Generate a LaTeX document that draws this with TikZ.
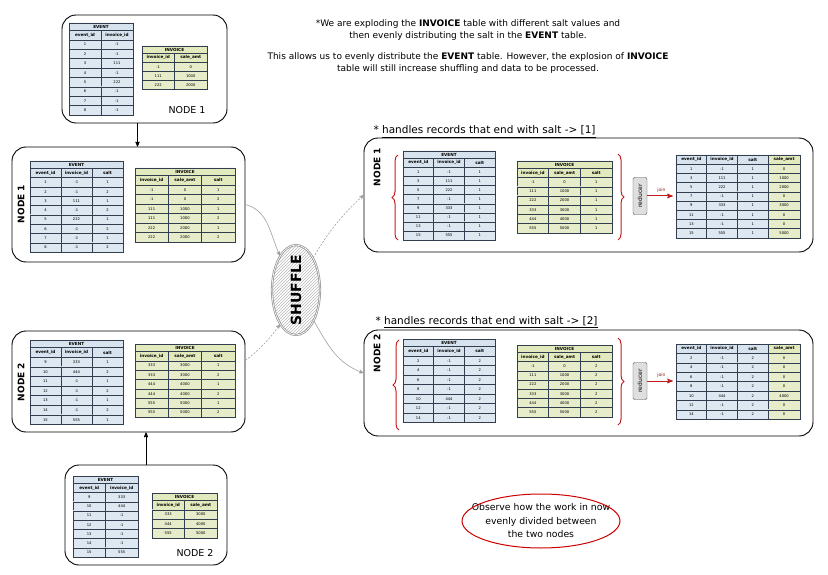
\documentclass[tikz,border=0pt]{standalone}
\usepackage{fontspec}
\setmainfont{DejaVu Sans}
\usetikzlibrary{arrows,shapes.geometric,patterns,decorations.pathreplacing}

\definecolor{evblue}{RGB}{206,224,241}
\definecolor{invgreen}{RGB}{222,233,168}
\definecolor{tblline}{RGB}{50,62,78}
\definecolor{bracered}{RGB}{196,28,28}

\tikzset{
  tcell/.style={inner sep=0pt, font=\fontsize{3.7}{3.7}\selectfont,
    postaction={pattern=north east lines, pattern color=white!85!gray},
    postaction={draw=tblline, line width=0.5pt}},
  thead/.style={tcell, font=\fontsize{4.2}{4.2}\selectfont\bfseries},
  nodebox/.style={draw, line width=0.9pt, rounded corners=14pt, inner sep=0pt},
  sidelbl/.style={rotate=90, font=\fontsize{9}{9}\selectfont\bfseries},
  conn/.style={draw=gray!75, line width=0.6pt},
  dconn/.style={conn, dash pattern=on 2pt off 1.5pt},
  heading/.style={font=\fontsize{10.5}{10.5}\selectfont},
  curly/.style={draw=bracered, line width=1pt, decorate, decoration={brace, amplitude=6pt}},
  reducer/.style={rotate=90, draw=gray!60!black, fill=gray!25, rounded corners=2pt,
    minimum width=37pt, minimum height=14pt, inner sep=0pt, font=\fontsize{6}{6}\selectfont},
  joinarr/.style={draw=bracered, line width=1pt, shorten >=3pt}
}

% #1 name, #2 left, #3 top, #4 column width, #5 row height, #6 colour, #7 title, #8 header, #9 rows
\newcommand{\datatable}[9]{%
  \foreach \hd [count=\cl] in {#8} {\xdef\tblcols{\cl}}
  \if\relax\detokenize{#7}\relax
    \def\tbltop{0}
  \else
    \def\tbltop{0.8*#5}
    \node[thead, fill=#6, minimum width={\tblcols*#4pt}, minimum height={0.8*#5pt}]
      (#1-t) at ({#2+\tblcols*#4/2}, {#3+0.4*#5}) {#7};
  \fi
  \foreach \hd [count=\cl] in {#8}
    \node[thead, fill=#6, minimum width=#4pt, minimum height=#5pt]
      (#1-h\cl) at ({#2+(\cl-0.5)*#4}, {#3+\tbltop+0.5*#5}) {\hd};
  \foreach \rw [count=\ri] in {#9}
    \foreach \vl [count=\cl] in \rw
      \node[tcell, fill=#6!80, minimum width=#4pt, minimum height=#5pt]
        (#1-\ri-\cl) at ({#2+(\cl-0.5)*#4}, {#3+\tbltop+(\ri+0.5)*#5}) {\vl};
}

\begin{document}
\begin{tikzpicture}[x=1pt, y=-1pt, >=stealth']
\useasboundingbox (0,0) rectangle (828,575);

%%%NOTE
\node[font=\fontsize{9}{12}\selectfont, align=center] (expl) at (468,47)
  {*We are exploding the \textbf{INVOICE} table with different salt values and\\
   then evenly distributing the salt in the \textbf{EVENT} table.\\[9pt]
   This allows us to evenly distribute the \textbf{EVENT} table. However, the explosion of \textbf{INVOICE}\\
   table will still increase shuffling and data to be processed.};

%%%BOXES
\node[nodebox, minimum width=165pt, minimum height=108pt] (topn1) at (144.5,69) {};
\node[nodebox, minimum width=233pt, minimum height=115pt] (leftn1) at (128.5,204.5) {};
\node[nodebox, minimum width=233pt, minimum height=101pt] (leftn2) at (128.5,381.5) {};
\node[nodebox, minimum width=162pt, minimum height=100pt] (botn2) at (146,515) {};
\node[nodebox, minimum width=449pt, minimum height=114pt] (rightn1) at (588.5,195) {};
\node[nodebox, minimum width=449pt, minimum height=106pt] (rightn2) at (588.5,383) {};

\node[font=\fontsize{9.5}{9.5}\selectfont] (topn1-lbl) at (187,110) {NODE 1};
\node[font=\fontsize{9.5}{9.5}\selectfont] (botn2-lbl) at (195,553) {NODE 2};
\node[sidelbl] (leftn1-lbl) at (21,204) {NODE 1};
\node[sidelbl] (leftn2-lbl) at (21,382) {NODE 2};
\node[sidelbl] (rightn1-lbl) at (377,167) {NODE 1};
\node[sidelbl] (rightn2-lbl) at (377,353) {NODE 2};

\node[heading, anchor=base west] (head1) at (370,134) {* \underline{handles records that end with salt -> [1]}};
\node[heading, anchor=base west] (head2) at (372,324) {* \underline{handles records that end with salt -> [2]}};

%%%TABLES
\datatable{tev}{69}{23}{32}{9.4}{evblue}{EVENT}{event\_id,invoice\_id}{{1,-1},{2,-1},{3,111},{4,-1},{5,222},{6,-1},{7,-1},{8,-1}}
\datatable{tinv}{142}{46}{32.5}{9}{invgreen}{INVOICE}{invoice\_id,sale\_amt}{{-1,0},{111,1000},{222,2000}}

\datatable{lev1}{30}{161}{31}{9.3}{evblue}{EVENT}{event\_id,invoice\_id,salt}{{1,-1,1},{2,-1,2},{3,111,1},{4,-1,2},{5,222,1},{6,-1,2},{7,-1,1},{8,-1,2}}
\datatable{linv1}{135}{168}{33.3}{9.5}{invgreen}{INVOICE}{invoice\_id,sale\_amt,salt}{{-1,0,1},{-1,0,2},{111,1000,1},{111,1000,2},{222,2000,1},{222,2000,2}}

\datatable{lev2}{30}{340}{31}{9.6}{evblue}{EVENT}{event\_id,invoice\_id,salt}{{9,333,1},{10,444,2},{11,-1,1},{12,-1,2},{13,-1,1},{14,-1,2},{15,555,1}}
\datatable{linv2}{135}{344}{33.3}{9.4}{invgreen}{INVOICE}{invoice\_id,sale\_amt,salt}{{333,3000,1},{333,3000,2},{444,4000,1},{444,4000,2},{555,5000,1},{555,5000,2}}

\datatable{bev}{73}{476}{32.5}{9.2}{evblue}{EVENT}{event\_id,invoice\_id}{{9,333},{10,444},{11,-1},{12,-1},{13,-1},{14,-1},{15,555}}
\datatable{binv}{152}{493}{32.5}{9.4}{invgreen}{INVOICE}{invoice\_id,sale\_amt}{{333,3000},{444,4000},{555,5000}}

\datatable{rev1}{403}{151}{30.7}{9.1}{evblue}{EVENT}{event\_id,invoice\_id,salt}{{1,-1,1},{3,111,1},{5,222,1},{7,-1,1},{9,333,1},{11,-1,1},{13,-1,1},{15,555,1}}
\datatable{rinv1}{517}{161}{31.7}{9.2}{invgreen}{INVOICE}{invoice\_id,sale\_amt,salt}{{-1,0,1},{111,1000,1},{222,2000,1},{333,3000,1},{444,4000,1},{555,5000,1}}
\datatable{res1}{676}{155}{30.7}{9.2}{evblue}{}{event\_id,invoice\_id,salt}{{1,-1,1},{3,111,1},{5,222,1},{7,-1,1},{9,333,1},{11,-1,1},{13,-1,1},{15,555,1}}
\datatable{res1s}{768.1}{155}{32}{9.2}{invgreen}{}{sale\_amt}{{0},{1000},{2000},{0},{3000},{0},{0},{5000}}

\datatable{rev2}{403}{339}{30.7}{9.5}{evblue}{EVENT}{event\_id,invoice\_id,salt}{{2,-1,2},{4,-1,2},{6,-1,2},{8,-1,2},{10,444,2},{12,-1,2},{14,-1,2}}
\datatable{rinv2}{517}{345}{31.7}{9.2}{invgreen}{INVOICE}{invoice\_id,sale\_amt,salt}{{-1,0,2},{111,1000,2},{222,2000,2},{333,3000,2},{444,4000,2},{555,5000,2}}
\datatable{res2}{676}{344}{30.7}{9.4}{evblue}{}{event\_id,invoice\_id,salt}{{2,-1,2},{4,-1,2},{6,-1,2},{8,-1,2},{10,444,2},{12,-1,2},{14,-1,2}}
\datatable{res2s}{768.1}{344}{32}{9.4}{invgreen}{}{sale\_amt}{{0},{0},{0},{0},{4000},{0},{0}}

%%%BRACES AND REDUCERS
\draw[curly] (398,240) -- (398,155);
\draw[curly] (618,154) -- (618,240);
\draw[curly] (399,430) -- (399,340);
\draw[curly] (618,338) -- (618,425);

\node[reducer] (red1) at (640,196) {reducer};
\node[reducer] (red2) at (640,381) {reducer};
\draw[joinarr, ->] (red1.south) -- node[above, text=bracered!70!black, font=\fontsize{4.5}{4.5}\selectfont] {join} (red1.south -| res1-h1.west);
\draw[joinarr, ->] (red2.south) -- node[above, text=bracered!70!black, font=\fontsize{4.5}{4.5}\selectfont] {join} (red2.south -| res2-h1.west);

%%%SHUFFLE
\node[ellipse, draw=gray!80, double, line width=0.8pt, minimum width=48pt, minimum height=90pt,
  pattern=north east lines, pattern color=gray!55] (shuffle) at (296,290) {};
\node[rotate=90, font=\fontsize{14}{14}\selectfont\bfseries] (shuffle-lbl) at (shuffle) {SHUFFLE};

\draw[conn, ->] (leftn1.east) to[out=-15, in=115] (shuffle.115);
\draw[dconn, ->] (shuffle.62) to[bend left=8] (rightn1.west);
\draw[dconn, ->] ([yshift=21pt]leftn2.east) to[bend right=8] (shuffle.-115);
\draw[conn, ->] (shuffle.-60) to[out=-60, in=160] ([yshift=10pt]rightn2.west);

%%%ARROWS BETWEEN NODES
\draw[->, line width=0.8pt] ([xshift=-7pt]topn1.south) -- ([xshift=-7pt]topn1.south |- leftn1.north);
\draw[->, line width=0.8pt] (botn2.north) -- (botn2.north |- leftn2.south);

%%%OBSERVE
\node[font=\fontsize{9.3}{13.5}\selectfont, align=center] (obs) at (541,521)
  {Observe how the work in now\\ evenly divided between\\ the two nodes};
\draw[draw=red!80!black, line width=1pt] (obs) ellipse [x radius=79pt, y radius=27pt];
\end{tikzpicture}
\end{document}
